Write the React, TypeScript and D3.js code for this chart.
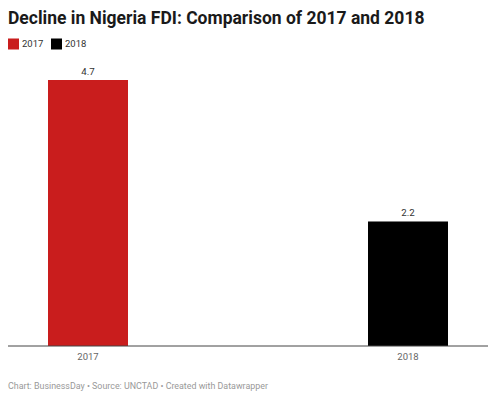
import React from "react";
import * as d3 from "d3";

const years = ["2017", "2018"];
const fdiValues = [4.7, 2.2];
const colors = ["#c91d1d", "#000000"];

const title = "Decline in Nigeria FDI: Comparison of 2017 and 2018";
const footer = "Chart: BusinessDay • Source: UNCTAD • Created with Datawrapper";

export default function App() {
  const width = 496;
  const height = 400;
  const margin = { left: 8, right: 8 };
  const baseline = 346;
  const top = 80;

  // bars 80px wide, centered at 88 and 408
  const x = d3
    .scaleBand()
    .domain(years)
    .range([margin.left, width - margin.right])
    .paddingInner(0.75)
    .paddingOuter(0.125);

  const y = d3
    .scaleLinear()
    .domain([0, d3.max(fdiValues) || 0])
    .range([baseline, top]);

  const font = "Roboto, 'Noto Sans', sans-serif";

  return (
    <svg
      width={width}
      height={height}
      style={{ position: "absolute", left: 0, top: 0, background: "#fff" }}
      fontFamily={font}
    >
      <text x={8} y={24} fontSize={17.5} fontWeight={700} fill="#1a1a1a">
        {title}
      </text>

      {/* legend */}
      {years.map((yr, i) => (
        <g key={yr} transform={`translate(${8 + i * 43},38.5)`}>
          <rect width={11} height={11} fill={colors[i]} />
          <text x={14} y={8.5} fontSize={9.5} fill="#333">
            {yr}
          </text>
        </g>
      ))}

      {/* bars */}
      {years.map((yr, i) => (
        <g key={yr}>
          <rect
            x={x(yr)!}
            y={y(fdiValues[i])}
            width={x.bandwidth()}
            height={baseline - y(fdiValues[i])}
            fill={colors[i]}
          />
          <text
            x={x(yr)! + x.bandwidth() / 2}
            y={y(fdiValues[i]) - 5.5}
            textAnchor="middle"
            fontSize={9.7}
            fill="#333"
          >
            {fdiValues[i].toFixed(1)}
          </text>
          <text
            x={x(yr)! + x.bandwidth() / 2}
            y={360}
            textAnchor="middle"
            fontSize={9.5}
            fill="#666"
          >
            {yr}
          </text>
        </g>
      ))}

      <line
        x1={margin.left}
        x2={width - margin.right}
        y1={baseline}
        y2={baseline}
        stroke="#444"
        strokeWidth={1}
      />

      <text x={8} y={389} fontSize={8.9} fill="#999">
        {footer}
      </text>
    </svg>
  );
}
